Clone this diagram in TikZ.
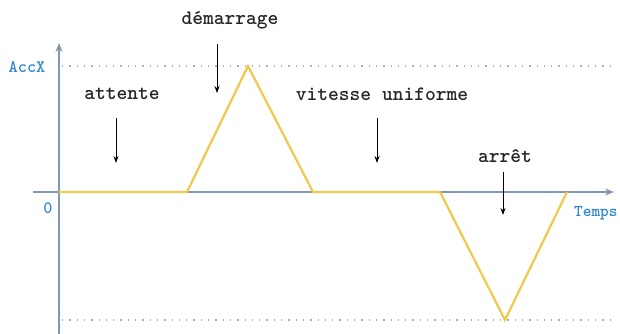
\documentclass[tikz,border=0pt]{standalone}
\usetikzlibrary{arrows.meta}
\definecolor{axisc}{HTML}{8497B0}
\definecolor{curvec}{HTML}{F0C94C}
\definecolor{labc}{HTML}{2F86CF}
\definecolor{guidec}{HTML}{9FB0C8}
\tikzset{
  axis/.style={draw=axisc, line width=1.3pt},
  guide/.style={draw=guidec, line width=1.3pt, dash pattern=on 1.3pt off 6pt},
  curve/.style={draw=curvec, line width=2.2pt, line join=miter},
  phase/.style={font=\fontsize{20.5}{24}\selectfont\ttfamily\bfseries, text=black!85, inner sep=0pt},
  axlab/.style={font=\fontsize{17.5}{20}\selectfont\ttfamily\bfseries, text=labc, inner sep=0pt},
  pointer/.style={draw=black, line width=1pt, -{Stealth[length=7pt,width=5pt]}}
}
\begin{document}
\begin{tikzpicture}[x=1pt,y=-1pt]
\useasboundingbox (0,0) rectangle (620,333);
% guides
\coordinate (gtl) at (62,66); \coordinate (gtr) at (612,66);
\coordinate (gbl) at (62,320); \coordinate (gbr) at (612,320);
\path[guide] (gtl) -- (gtr);
\path[guide] (gbl) -- (gbr);
% axes
\coordinate (xs) at (33,192); \coordinate (xe) at (614,192);
\coordinate (ys) at (59,340); \coordinate (ye) at (59,43);
\draw[axis, -{Stealth[length=9pt,width=7pt]}] (xs) -- (xe);
\draw[axis, -{Stealth[length=9pt,width=7pt]}] (ys) -- (ye);
% curve
\coordinate (p0) at (59,192); \coordinate (p1) at (187,192);
\coordinate (p2) at (248,66); \coordinate (p3) at (313,192);
\coordinate (p4) at (440,192); \coordinate (p5) at (505,320);
\coordinate (p6) at (567,192);
\path[curve] (p0) -- (p1) -- (p2) -- (p3) -- (p4) -- (p5) -- (p6);
% axis labels
\node[axlab] (accx) at (27,67) {AccX};
\node[axlab] (zero) at (48,208) {0};
\node[axlab, anchor=west, font=\fontsize{16.5}{19}\selectfont\ttfamily\bfseries] (temps) at (574,213) {Temps};
% phase labels
\node[phase] (att) at (122,94) {attente};
\node[phase] (dem) at (230,20) {démarrage};
\node[phase] (vit) at (382,94) {vitesse uniforme};
\node[phase] (arr) at (505,156) {arrêt};
% pointers
\coordinate (a1s) at (116,118); \coordinate (a1e) at (116,163);
\coordinate (a2s) at (217,44); \coordinate (a2e) at (217,93);
\coordinate (a3s) at (377,118); \coordinate (a3e) at (377,163);
\coordinate (a4s) at (503,172); \coordinate (a4e) at (503,215);
\draw[pointer] (a1s) -- (a1e);
\draw[pointer] (a2s) -- (a2e);
\draw[pointer] (a3s) -- (a3e);
\draw[pointer] (a4s) -- (a4e);
\end{tikzpicture}
\end{document}
